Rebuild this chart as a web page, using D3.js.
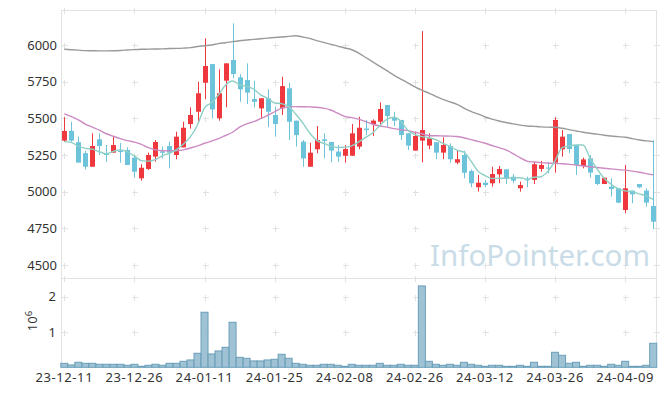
<!DOCTYPE html>
<html>
<head>
<meta charset="utf-8">
<title>Candlestick</title>
<style>
  body { margin: 0; background: #fff; }
  text { font-family: "Noto Sans", sans-serif; }
</style>
</head>
<body>
<svg width="665" height="396"></svg>
<script src="https://d3js.org/d3.v7.min.js"></script>
<script>
var dates = ["23-12-11","23-12-12","23-12-13","23-12-14","23-12-15","23-12-18","23-12-19","23-12-20","23-12-21","23-12-22",
  "23-12-26","23-12-27","23-12-28","24-01-02","24-01-03","24-01-04","24-01-05","24-01-08","24-01-09","24-01-10",
  "24-01-11","24-01-12","24-01-15","24-01-16","24-01-17","24-01-18","24-01-19","24-01-22","24-01-23","24-01-24",
  "24-01-25","24-01-26","24-01-29","24-01-30","24-01-31","24-02-01","24-02-02","24-02-05","24-02-06","24-02-07",
  "24-02-08","24-02-13","24-02-14","24-02-15","24-02-16","24-02-19","24-02-20","24-02-21","24-02-22","24-02-23",
  "24-02-26","24-02-27","24-02-28","24-02-29","24-03-04","24-03-05","24-03-06","24-03-07","24-03-08","24-03-11",
  "24-03-12","24-03-13","24-03-14","24-03-15","24-03-18","24-03-19","24-03-20","24-03-21","24-03-22","24-03-25",
  "24-03-26","24-03-27","24-03-28","24-03-29","24-04-01","24-04-02","24-04-03","24-04-04","24-04-05","24-04-08",
  "24-04-09","24-04-11","24-04-12","24-04-15","24-04-16"];

var opens = [5348,5414,5337,5262,5170,5357,5262,5266,5280,5284,
  5232,5091,5155,5239,5275,5311,5250,5302,5461,5545,
  5743,5870,5500,5757,5898,5780,5761,5632,5568,5637,
  5523,5568,5705,5484,5341,5170,5289,5357,5339,5273,
  5245,5245,5307,5430,5461,5477,5591,5507,5489,5398,
  5280,5348,5314,5337,5266,5311,5198,5250,5141,5030,
  5061,5057,5118,5152,5102,5023,5084,5080,5155,5164,
  5198,5289,5393,5318,5175,5227,5114,5052,5034,5023,
  4875,5007,5052,5007,4902];
var highs = [5507,5477,5375,5279,5398,5398,5318,5375,5333,5302,
  5250,5187,5266,5352,5307,5341,5409,5477,5575,5750,
  6046,5870,5834,5875,6148,5802,5875,5757,5637,5698,
  5580,5784,5743,5484,5352,5334,5448,5398,5339,5318,
  5318,5461,5511,5489,5493,5609,5591,5545,5489,5398,
  5409,6095,5398,5337,5370,5330,5280,5279,5152,5114,
  5080,5170,5175,5152,5120,5068,5102,5204,5209,5198,
  5507,5420,5393,5318,5232,5250,5114,5095,5091,5023,
  5182,5007,5052,5023,5352];
var lows = [5339,5341,5198,5152,5170,5250,5204,5266,5198,5182,
  5095,5075,5148,5204,5227,5159,5221,5302,5430,5477,
  5630,5500,5484,5575,5773,5613,5598,5575,5500,5439,
  5375,5523,5352,5307,5170,5170,5262,5227,5200,5204,
  5198,5245,5289,5386,5380,5448,5443,5448,5352,5284,
  5280,5200,5289,5221,5221,5198,5187,5091,5030,5000,
  5030,5034,5057,5052,5057,5000,5030,5052,5136,5125,
  5129,5239,5262,5114,5159,5095,5045,5052,4966,4921,
  4852,4921,5023,4898,4745];
var closes = [5414,5348,5198,5170,5311,5311,5250,5318,5270,5182,
  5136,5163,5250,5339,5265,5266,5375,5436,5523,5671,
  5857,5561,5671,5875,5802,5698,5675,5613,5637,5545,
  5461,5720,5477,5386,5227,5266,5352,5346,5280,5239,
  5291,5398,5436,5420,5484,5564,5516,5484,5386,5314,
  5380,5420,5364,5266,5318,5221,5221,5129,5057,5061,
  5045,5120,5155,5091,5075,5045,5080,5187,5182,5159,
  5489,5375,5291,5182,5220,5130,5052,5095,5018,4925,
  5023,4982,5030,4925,4795];
var volumes = [113000,66000,142000,113000,113000,85000,85000,85000,85000,57000,
  85000,28000,57000,85000,57000,113000,113000,170000,208000,397000,
  1558000,378000,463000,567000,1275000,283000,255000,180000,180000,208000,
  227000,368000,255000,113000,85000,57000,57000,85000,85000,57000,
  28000,85000,57000,57000,57000,113000,57000,57000,85000,57000,
  57000,2304000,170000,85000,57000,85000,57000,142000,85000,57000,
  28000,57000,57000,28000,28000,57000,28000,142000,28000,28000,
  425000,340000,113000,142000,28000,57000,57000,28000,85000,57000,
  170000,28000,28000,57000,680000];

// moving averages
var ma5 = [5341,5336,5310,5295,5290,5272,5258,5275,5285,5272,
  5243,5212,5208,5218,5245,5262,5287,5325,5375,5455,
  5572,5607,5660,5727,5755,5728,5718,5700,5660,5637,
  5605,5600,5580,5530,5470,5400,5350,5330,5311,5302,
  5303,5312,5340,5370,5402,5450,5493,5507,5480,5418,
  5390,5375,5368,5355,5330,5310,5283,5270,5210,5140,
  5110,5090,5091,5091,5095,5095,5085,5098,5102,5140,
  5210,5300,5312,5318,5318,5227,5155,5091,5050,5020,
  5005,5000,4985,4970,4948];
var ma20 = [5530,5512,5490,5460,5440,5420,5395,5378,5362,5348,
  5338,5322,5300,5285,5279,5278,5279,5285,5298,5312,
  5330,5345,5362,5383,5405,5440,5462,5477,5498,5520,
  5545,5570,5578,5580,5579,5578,5576,5570,5557,5535,
  5513,5505,5495,5478,5460,5448,5440,5430,5422,5416,
  5405,5395,5383,5381,5380,5379,5376,5368,5355,5343,
  5330,5315,5300,5285,5260,5232,5208,5202,5198,5195,
  5193,5190,5186,5181,5175,5170,5165,5160,5155,5150,
  5147,5140,5132,5123,5114];
var ma60 = [5971,5968,5965,5962,5961,5960,5960,5961,5963,5966,
  5969,5971,5972,5973,5974,5976,5977,5979,5982,5990,
  5995,6000,6010,6016,6023,6029,6034,6039,6043,6047,
  6051,6055,6059,6063,6055,6045,6030,6018,6005,5993,
  5980,5968,5945,5915,5885,5855,5825,5795,5768,5742,
  5715,5692,5672,5650,5630,5612,5596,5570,5548,5530,
  5510,5495,5482,5472,5462,5454,5448,5445,5442,5440,
  5439,5432,5423,5414,5405,5398,5392,5385,5380,5375,
  5371,5362,5352,5346,5341];

var priceTicks = [4500,4750,5000,5250,5500,5750,6000];
var volTicks = [1000000,2000000];
var volTickLabels = ["1","2"];

var svg = d3.select("svg");

var plotL = 61.5, plotR = 656, plotT = 10, plotMid = 278, plotB = 367.3;

var x = d3.scaleLinear().domain([-0.4, dates.length - 0.6]).range([plotL, plotR]);
var y = d3.scaleLinear().domain([4411, 6239]).range([plotMid, plotT]);
var yv = d3.scaleLinear().domain([0, 2528000]).range([plotB, plotMid]);

var xTicks = d3.range(0, dates.length, 10);
var gridColor = "#e2e2e2";

// grid crosses
function cross(g, cx, cy) {
  g.append("path")
    .attr("d", "M" + (cx - 3) + "," + cy + "H" + (cx + 3) + "M" + cx + "," + (cy - 3) + "V" + (cy + 3))
    .attr("stroke", gridColor)
    .attr("fill", "none");
}
var grid = svg.append("g").attr("shape-rendering", "crispEdges");
xTicks.forEach(function(i) {
  priceTicks.forEach(function(p) { cross(grid, Math.round(x(i)) + 0.5, Math.round(y(p)) + 0.5); });
  volTicks.forEach(function(v) { cross(grid, Math.round(x(i)) + 0.5, Math.round(yv(v)) + 0.5); });
  cross(grid, Math.round(x(i)) + 0.5, plotT + 0.5);
  cross(grid, Math.round(x(i)) + 0.5, plotMid + 0.5);
});
priceTicks.forEach(function(p) { cross(grid, plotR + 0.5, Math.round(y(p)) + 0.5); });
volTicks.forEach(function(v) { cross(grid, plotR + 0.5, Math.round(yv(v)) + 0.5); });

// frame
svg.append("path")
  .attr("d", "M" + plotL + "," + plotT + "H" + plotR + "V" + plotB + "M" + plotL + "," + (plotMid + 0.5) + "H" + plotR +
    "M" + plotL + "," + plotT + "V" + plotB)
  .attr("stroke", "#e2e2e2")
  .attr("fill", "none")
  .attr("shape-rendering", "crispEdges");

// watermark
svg.append("text")
  .attr("x", 430)
  .attr("y", 266)
  .attr("font-size", 29.5)
  .attr("fill", "#c9dce7")
  .text("InfoPointer.com");

svg.append("clipPath").attr("id", "pclip")
  .append("rect").attr("x", plotL).attr("y", plotT).attr("width", plotR - plotL).attr("height", plotMid - plotT);

var up = "#ee383e", down = "#6cc3da";
var candles = svg.append("g").attr("clip-path", "url(#pclip)")
  .selectAll("g")
  .data(dates.map(function(d, i) { return i; }))
  .enter().append("g");

candles.append("line")
  .attr("x1", function(i) { return Math.round(x(i)) + 0.5; })
  .attr("x2", function(i) { return Math.round(x(i)) + 0.5; })
  .attr("y1", function(i) { return y(highs[i]); })
  .attr("y2", function(i) { return y(lows[i]); })
  .attr("stroke", function(i) { return closes[i] >= opens[i] ? up : down; });

candles.append("rect")
  .attr("x", function(i) { return Math.round(x(i)) - 2; })
  .attr("width", 5)
  .attr("y", function(i) { return y(Math.max(opens[i], closes[i])); })
  .attr("height", function(i) { return Math.max(1, Math.abs(y(opens[i]) - y(closes[i]))); })
  .attr("fill", function(i) { return closes[i] >= opens[i] ? up : down; });

// moving averages
var line = d3.line()
  .x(function(d, i) { return x(i); })
  .y(function(d) { return y(d); })
  .curve(d3.curveMonotoneX);

[[ma60, "#9a9a9a"], [ma20, "#cc8ac3"], [ma5, "#8fd0c6"]].forEach(function(s) {
  svg.append("path")
    .datum(s[0])
    .attr("d", line)
    .attr("fill", "none")
    .attr("stroke", s[1])
    .attr("stroke-width", 1.4);
});

// volume
var bw = x(1) - x(0);
svg.append("g")
  .selectAll("rect")
  .data(volumes)
  .enter().append("rect")
    .attr("x", function(d, i) { return x(i) - bw / 2; })
    .attr("width", bw)
    .attr("y", function(d) { return yv(d); })
    .attr("height", function(d) { return plotB - yv(d); })
    .attr("fill", "#95bdcf")
    .attr("fill-opacity", 0.9)
    .attr("stroke", "#6a9fb9")
    .attr("stroke-width", 1);

// labels
svg.append("g")
  .selectAll("text")
  .data(priceTicks)
  .enter().append("text")
    .attr("x", 57)
    .attr("y", function(d) { return y(d); })
    .attr("dy", "0.35em")
    .attr("text-anchor", "end")
    .attr("font-size", 13)
    .attr("fill", "#333")
    .text(function(d) { return d; });

svg.append("g")
  .selectAll("text")
  .data(volTicks)
  .enter().append("text")
    .attr("x", 56)
    .attr("y", function(d) { return yv(d); })
    .attr("dy", "0.35em")
    .attr("text-anchor", "end")
    .attr("font-size", 13)
    .attr("fill", "#333")
    .text(function(d, i) { return volTickLabels[i]; });

var vlab = svg.append("text")
  .attr("transform", "translate(37,321) rotate(-90)")
  .attr("text-anchor", "middle")
  .attr("font-size", 13)
  .attr("fill", "#333");
vlab.append("tspan").text("10");
vlab.append("tspan").attr("dy", -5).attr("font-size", 9.5).text("6");

svg.append("g")
  .selectAll("text")
  .data(xTicks)
  .enter().append("text")
    .attr("x", function(i) { return x(i); })
    .attr("y", 382)
    .attr("text-anchor", "middle")
    .attr("font-size", 13)
    .attr("letter-spacing", 0.6)
    .attr("fill", "#333")
    .text(function(i) { return dates[i]; });
</script>
</body>
</html>
